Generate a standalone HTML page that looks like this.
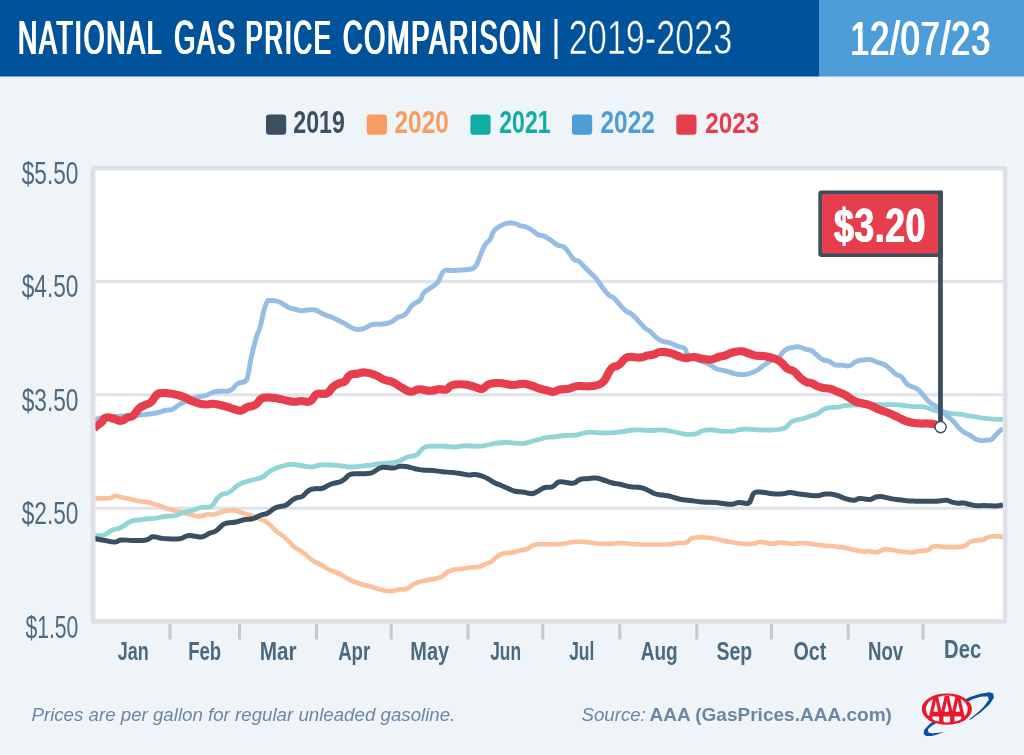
<!DOCTYPE html>
<html lang="en">
<head>
<meta charset="utf-8">
<title>National Gas Price Comparison | 2019-2023</title>
<style>
html,body{margin:0;padding:0;background:#eff4f9;}
body{width:1024px;height:755px;overflow:hidden;font-family:'Liberation Sans', sans-serif;}
svg{display:block;}
svg text{font-family:'Liberation Sans', sans-serif;white-space:pre;}
.ln{fill:none;stroke-linejoin:round;stroke-linecap:butt;}
</style>
</head>
<body>
<svg width="1024" height="755" viewBox="0 0 1024 755">
<defs><clipPath id="plot"><rect x="95.4" y="170.6" width="907.5" height="448.4"/></clipPath><clipPath id="aaaclip"><ellipse cx="946.8" cy="709.1" rx="25.0" ry="15.6"/></clipPath></defs>
<rect width="1024" height="755" fill="#eff4f9"/>
<rect x="0" y="0" width="819" height="76.5" fill="#00539b"/>
<rect x="819" y="0" width="205" height="76.5" fill="#4d9ed8"/>
<rect x="266" y="114.5" width="20.2" height="20.2" rx="3.2" fill="#3b4f61"/>
<rect x="366.75" y="114.5" width="20.2" height="20.2" rx="3.2" fill="#f79d62"/>
<rect x="470.4" y="114.5" width="20.2" height="20.2" rx="3.2" fill="#0fada3"/>
<rect x="572" y="114.5" width="20.2" height="20.2" rx="3.2" fill="#4f9cd6"/>
<rect x="676.3" y="114.5" width="20.2" height="20.2" rx="3.2" fill="#e63d4d"/>
<rect x="93.05" y="168.1" width="912.05" height="453.3" rx="1" fill="#ffffff" stroke="#dfe1e7" stroke-width="4.7"/>
<rect x="95.6" y="279.9" width="907.3" height="3.2" fill="#e2e3e8"/>
<rect x="95.6" y="393.2" width="907.3" height="3.2" fill="#e2e3e8"/>
<rect x="95.6" y="506.59999999999997" width="907.3" height="3.2" fill="#e2e3e8"/>
<rect x="168.5" y="624" width="3" height="15.5" fill="#c6c8cd"/>
<rect x="238.0" y="624" width="3" height="15.5" fill="#c6c8cd"/>
<rect x="315.0" y="624" width="3" height="15.5" fill="#c6c8cd"/>
<rect x="389.75" y="624" width="3" height="15.5" fill="#c6c8cd"/>
<rect x="466.5" y="624" width="3" height="15.5" fill="#c6c8cd"/>
<rect x="541.25" y="624" width="3" height="15.5" fill="#c6c8cd"/>
<rect x="618.25" y="624" width="3" height="15.5" fill="#c6c8cd"/>
<rect x="695.25" y="624" width="3" height="15.5" fill="#c6c8cd"/>
<rect x="769.9" y="624" width="3" height="15.5" fill="#c6c8cd"/>
<rect x="846.75" y="624" width="3" height="15.5" fill="#c6c8cd"/>
<rect x="921.5" y="624" width="3" height="15.5" fill="#c6c8cd"/>
<g clip-path="url(#plot)">
<path class="ln" d="M94.00,498.31 C94.38,498.30 91.45,498.33 95.50,498.25 C99.55,498.17 105.06,498.63 110.00,498.00 C114.94,497.37 111.83,495.88 115.00,495.75 C118.17,495.62 118.07,496.55 122.50,497.50 C126.93,498.45 128.07,498.55 132.50,499.50 C136.93,500.45 135.88,500.49 140.00,501.25 C144.12,502.01 144.32,501.55 148.75,502.50 C153.18,503.45 152.75,503.42 157.50,505.00 C162.25,506.58 162.43,507.17 167.50,508.75 C172.57,510.33 171.80,509.79 177.50,511.25 C183.20,512.71 184.30,513.23 190.00,514.50 C195.70,515.77 195.88,516.25 200.00,516.25 C204.12,516.25 202.77,514.94 206.25,514.50 C209.73,514.06 210.27,515.01 213.75,514.50 C217.23,513.99 216.83,513.45 220.00,512.50 C223.17,511.55 222.77,511.26 226.25,510.75 C229.73,510.24 230.27,510.18 233.75,510.50 C237.23,510.82 236.52,510.99 240.00,512.00 C243.48,513.01 243.70,513.23 247.50,514.50 C251.30,515.77 251.20,515.61 255.00,517.00 C258.80,518.39 259.02,518.29 262.50,520.00 C265.98,521.71 265.27,520.90 268.75,523.75 C272.23,526.60 272.77,528.27 276.25,531.25 C279.73,534.23 279.33,532.97 282.50,535.50 C285.67,538.03 285.58,538.21 288.75,541.25 C291.92,544.29 291.83,544.97 295.00,547.50 C298.17,550.03 298.08,549.03 301.25,551.25 C304.42,553.47 304.33,553.72 307.50,556.25 C310.67,558.78 310.27,559.03 313.75,561.25 C317.23,563.47 317.45,562.91 321.25,565.00 C325.05,567.09 324.95,567.60 328.75,569.50 C332.55,571.40 332.64,570.90 336.25,572.50 C339.86,574.10 339.52,573.90 343.00,575.80 C346.48,577.70 345.69,577.99 350.00,580.00 C354.31,582.01 354.93,582.17 360.00,583.75 C365.07,585.33 364.93,584.79 370.00,586.25 C375.07,587.71 374.93,588.23 380.00,589.50 C385.07,590.77 385.25,591.25 390.00,591.25 C394.75,591.25 394.63,590.07 398.75,589.50 C402.87,588.93 402.77,590.14 406.25,589.00 C409.73,587.86 409.65,586.65 412.50,585.00 C415.35,583.35 413.70,583.77 417.50,582.50 C421.30,581.23 421.80,581.27 427.50,580.00 C433.20,578.73 435.25,579.27 440.00,577.50 C444.75,575.73 443.08,574.90 446.25,573.00 C449.42,571.10 448.38,571.08 452.50,570.00 C456.62,568.92 458.07,569.38 462.50,568.75 C466.93,568.12 465.88,568.01 470.00,567.50 C474.12,566.99 474.95,567.57 478.75,566.75 C482.55,565.93 481.83,565.52 485.00,564.25 C488.17,562.98 488.08,563.78 491.25,561.75 C494.42,559.72 494.33,558.40 497.50,556.25 C500.67,554.10 499.95,554.20 503.75,553.25 C507.55,552.30 508.38,553.20 512.50,552.50 C516.62,551.80 516.20,551.45 520.00,550.50 C523.80,549.55 524.02,550.14 527.50,548.75 C530.98,547.36 530.58,546.14 533.75,545.00 C536.92,543.86 535.25,544.44 540.00,544.25 C544.75,544.06 546.48,544.38 552.50,544.25 C558.52,544.12 558.68,544.32 563.75,543.75 C568.82,543.18 567.75,542.51 572.50,542.00 C577.25,541.49 578.07,541.62 582.50,541.75 C586.93,541.88 585.57,541.99 590.00,542.50 C594.43,543.01 594.30,543.43 600.00,543.75 C605.70,544.07 606.80,543.94 612.50,543.75 C618.20,543.56 616.80,542.87 622.50,543.00 C628.20,543.13 627.40,543.87 635.00,544.25 C642.60,544.63 643.63,544.50 652.50,544.50 C661.37,544.50 663.67,544.63 670.00,544.25 C676.33,543.87 673.38,543.44 677.50,543.00 C681.62,542.56 682.45,543.77 686.25,542.50 C690.05,541.23 687.75,539.27 692.50,538.00 C697.25,536.73 698.67,537.18 705.00,537.50 C711.33,537.82 711.17,538.11 717.50,539.25 C723.83,540.39 723.67,540.86 730.00,542.00 C736.33,543.14 736.48,543.31 742.50,543.75 C748.52,544.19 749.32,544.19 753.75,543.75 C758.18,543.31 755.25,542.00 760.00,542.00 C764.75,542.00 767.43,543.62 772.50,543.75 C777.57,543.88 774.93,542.50 780.00,542.50 C785.07,542.50 786.80,543.62 792.50,543.75 C798.20,543.88 796.80,542.81 802.50,543.00 C808.20,543.19 809.30,543.80 815.00,544.50 C820.70,545.20 821.20,545.37 825.00,545.75 C828.80,546.13 826.83,545.73 830.00,546.00 C833.17,546.27 833.70,546.34 837.50,546.80 C841.30,547.26 840.72,546.99 845.00,547.80 C849.28,548.61 849.87,549.06 854.40,550.00 C858.93,550.94 859.33,551.20 862.90,551.50 C866.47,551.80 864.93,551.05 868.50,551.20 C872.07,551.35 872.95,552.58 877.00,552.10 C881.05,551.62 880.67,549.83 884.50,549.30 C888.33,548.77 887.79,549.44 892.10,550.00 C896.41,550.56 896.74,550.87 901.50,551.50 C906.26,552.13 906.62,552.58 910.90,552.50 C915.18,552.42 914.12,551.83 918.40,551.20 C922.68,550.57 924.00,551.19 927.80,550.00 C931.60,548.81 929.60,547.31 933.40,546.50 C937.20,545.69 938.04,546.62 942.80,546.80 C947.56,546.98 946.96,547.33 952.20,547.20 C957.44,547.07 959.19,547.49 963.50,546.30 C967.81,545.11 966.34,543.94 969.20,542.50 C972.06,541.06 971.23,541.31 974.80,540.60 C978.37,539.89 980.21,540.51 983.30,539.70 C986.39,538.89 983.91,538.31 987.00,537.40 C990.09,536.49 991.45,536.23 995.50,536.10 C999.55,535.97 1001.10,536.70 1003.00,536.90" stroke="#fbc19c" stroke-width="4.7"/>
<path class="ln" d="M94.00,535.62 C94.38,535.59 93.03,535.66 95.50,535.50 C97.97,535.34 99.44,536.39 103.75,535.00 C108.06,533.61 108.38,531.77 112.50,530.00 C116.62,528.23 115.25,530.22 120.00,528.00 C124.75,525.78 126.18,523.28 131.25,521.25 C136.32,519.22 135.57,520.63 140.00,520.00 C144.43,519.37 144.63,519.19 148.75,518.75 C152.87,518.31 152.13,518.88 156.25,518.25 C160.37,517.62 160.25,516.88 165.00,516.25 C169.75,515.62 170.25,516.70 175.00,515.75 C179.75,514.80 179.32,513.83 183.75,512.50 C188.18,511.17 188.07,511.77 192.50,510.50 C196.93,509.23 196.50,508.58 201.25,507.50 C206.00,506.42 207.13,508.66 211.25,506.25 C215.37,503.84 214.65,501.04 217.50,498.00 C220.35,494.96 219.65,495.64 222.50,494.25 C225.35,492.86 224.95,494.72 228.75,492.50 C232.55,490.28 233.70,488.03 237.50,485.50 C241.30,482.97 239.95,483.89 243.75,482.50 C247.55,481.11 247.75,481.39 252.50,480.00 C257.25,478.61 258.38,479.03 262.50,477.00 C266.62,474.97 265.27,474.28 268.75,472.00 C272.23,469.72 272.45,469.58 276.25,468.00 C280.05,466.42 280.27,466.64 283.75,465.75 C287.23,464.86 286.52,464.69 290.00,464.50 C293.48,464.31 293.70,464.56 297.50,465.00 C301.30,465.44 301.20,465.81 305.00,466.25 C308.80,466.69 308.70,467.07 312.50,466.75 C316.30,466.43 315.57,465.44 320.00,465.00 C324.43,464.56 324.93,464.81 330.00,465.00 C335.07,465.19 334.30,465.24 340.00,465.75 C345.70,466.26 345.53,467.06 352.50,467.00 C359.47,466.94 360.53,466.32 367.50,465.50 C374.47,464.68 374.30,464.38 380.00,463.75 C385.70,463.12 385.25,463.63 390.00,463.00 C394.75,462.37 394.32,462.77 398.75,461.25 C403.18,459.73 403.07,458.58 407.50,457.00 C411.93,455.42 412.77,456.77 416.25,455.00 C419.73,453.23 418.72,452.09 421.25,450.00 C423.78,447.91 422.77,447.70 426.25,446.75 C429.73,445.80 430.25,446.38 435.00,446.25 C439.75,446.12 439.93,446.06 445.00,446.25 C450.07,446.44 449.93,447.13 455.00,447.00 C460.07,446.87 459.30,445.94 465.00,445.75 C470.70,445.56 471.80,446.44 477.50,446.25 C483.20,446.06 482.43,445.82 487.50,445.00 C492.57,444.18 492.43,443.63 497.50,443.00 C502.57,442.37 502.75,442.44 507.50,442.50 C512.25,442.56 511.82,443.06 516.25,443.25 C520.68,443.44 520.57,443.88 525.00,443.25 C529.43,442.62 529.95,441.76 533.75,440.75 C537.55,439.74 536.83,440.07 540.00,439.25 C543.17,438.43 542.45,438.13 546.25,437.50 C550.05,436.87 550.25,437.26 555.00,436.75 C559.75,436.24 559.62,435.94 565.00,435.50 C570.38,435.06 570.87,435.76 576.25,435.00 C581.63,434.24 582.13,433.18 586.25,432.50 C590.37,431.82 588.38,432.17 592.50,432.30 C596.62,432.43 596.80,432.95 602.50,433.00 C608.20,433.05 609.30,432.94 615.00,432.50 C620.70,432.06 620.57,431.88 625.00,431.25 C629.43,430.62 628.07,430.32 632.50,430.00 C636.93,429.68 637.43,429.87 642.50,430.00 C647.57,430.13 647.43,430.50 652.50,430.50 C657.57,430.50 657.43,429.75 662.50,430.00 C667.57,430.25 666.80,430.42 672.50,431.50 C678.20,432.58 678.98,433.68 685.00,434.25 C691.02,434.82 691.82,434.64 696.25,433.75 C700.68,432.86 698.38,431.70 702.50,430.75 C706.62,429.80 707.43,429.87 712.50,430.00 C717.57,430.13 717.43,430.93 722.50,431.25 C727.57,431.57 728.07,431.69 732.50,431.25 C736.93,430.81 735.57,430.01 740.00,429.50 C744.43,428.99 744.93,429.12 750.00,429.25 C755.07,429.38 754.93,429.81 760.00,430.00 C765.07,430.19 764.93,430.19 770.00,430.00 C775.07,429.81 775.88,430.01 780.00,429.25 C784.12,428.49 783.08,429.03 786.25,427.00 C789.42,424.97 788.38,423.34 792.50,421.25 C796.62,419.16 798.07,420.02 802.50,418.75 C806.93,417.48 806.20,417.52 810.00,416.25 C813.80,414.98 813.70,415.65 817.50,413.75 C821.30,411.85 821.20,410.33 825.00,408.75 C828.80,407.17 829.33,407.87 832.50,407.50 C835.67,407.13 834.33,407.78 837.50,407.30 C840.67,406.82 841.17,406.13 845.00,405.60 C848.83,405.07 846.87,405.53 852.60,405.20 C858.33,404.87 860.94,404.43 867.60,404.30 C874.26,404.17 872.24,404.60 878.90,404.70 C885.56,404.80 887.24,404.47 893.90,404.70 C900.56,404.93 900.44,405.14 905.20,405.60 C909.96,406.06 908.42,406.22 912.70,406.50 C916.98,406.78 918.27,406.32 922.10,406.70 C925.93,407.08 925.17,407.19 927.80,408.00 C930.43,408.81 929.89,409.09 932.50,409.90 C935.11,410.71 935.01,410.57 938.10,411.20 C941.19,411.83 941.13,411.77 944.70,412.40 C948.27,413.03 948.40,413.24 952.20,413.70 C956.00,414.16 955.87,413.72 959.70,414.20 C963.53,414.68 963.47,415.02 967.30,415.60 C971.13,416.18 971.00,415.89 974.80,416.50 C978.60,417.11 978.50,417.42 982.30,418.00 C986.10,418.58 985.97,418.47 989.80,418.80 C993.63,419.13 994.06,419.17 997.40,419.30 C1000.74,419.43 1001.58,419.30 1003.00,419.30" stroke="#92d5d6" stroke-width="4.8"/>
<path class="ln" d="M94.00,419.69 C94.38,419.58 92.71,419.80 95.50,419.25 C98.29,418.70 98.79,418.26 105.00,417.50 C111.21,416.74 111.13,416.88 120.00,416.25 C128.87,415.62 131.13,415.76 140.00,415.00 C148.87,414.24 148.67,414.39 155.00,413.25 C161.33,412.11 160.57,411.51 165.00,410.50 C169.43,409.49 169.02,410.64 172.50,409.25 C175.98,407.86 175.27,407.03 178.75,405.00 C182.23,402.97 182.13,403.15 186.25,401.25 C190.37,399.35 190.25,398.89 195.00,397.50 C199.75,396.11 200.57,397.02 205.00,395.75 C209.43,394.48 208.70,393.64 212.50,392.50 C216.30,391.36 215.57,391.76 220.00,391.25 C224.43,390.74 225.57,392.40 230.00,390.50 C234.43,388.60 233.70,386.09 237.50,383.75 C241.30,381.41 242.34,383.47 245.00,381.25 C247.66,379.03 246.42,381.02 248.00,375.00 C249.58,368.98 249.16,367.00 251.25,357.50 C253.34,348.00 254.03,345.10 256.25,337.50 C258.47,329.90 258.10,334.15 260.00,327.50 C261.90,320.85 261.98,317.71 263.75,311.25 C265.52,304.79 265.42,304.72 267.00,302.00 C268.58,299.28 267.34,300.69 270.00,300.50 C272.66,300.31 274.02,300.24 277.50,301.25 C280.98,302.26 280.58,302.79 283.75,304.50 C286.92,306.21 286.83,306.73 290.00,308.00 C293.17,309.27 293.40,308.80 296.25,309.50 C299.10,310.20 298.40,310.62 301.25,310.75 C304.10,310.88 304.02,310.19 307.50,310.00 C310.98,309.81 311.52,309.24 315.00,310.00 C318.48,310.76 318.40,311.61 321.25,313.00 C324.10,314.39 323.72,314.49 326.25,315.50 C328.78,316.51 328.40,315.86 331.25,317.00 C334.10,318.14 334.78,318.66 337.50,320.00 C340.22,321.34 339.78,321.16 342.00,322.30 C344.22,323.44 343.91,323.18 346.25,324.50 C348.59,325.82 348.40,326.23 351.25,327.50 C354.10,328.77 354.02,329.37 357.50,329.50 C360.98,329.63 361.20,329.27 365.00,328.00 C368.80,326.73 368.07,325.51 372.50,324.50 C376.93,323.49 377.75,324.63 382.50,324.00 C387.25,323.37 387.45,323.65 391.25,322.00 C395.05,320.35 394.02,319.40 397.50,317.50 C400.98,315.60 401.20,317.67 405.00,314.50 C408.80,311.33 408.70,308.67 412.50,305.00 C416.30,301.33 417.15,303.04 420.00,300.00 C422.85,296.96 421.22,295.98 423.75,293.00 C426.28,290.02 426.52,290.91 430.00,288.25 C433.48,285.59 434.65,285.86 437.50,282.50 C440.35,279.14 439.35,278.04 441.25,275.00 C443.15,271.96 442.15,271.64 445.00,270.50 C447.85,269.36 448.70,270.63 452.50,270.50 C456.30,270.37 456.20,270.25 460.00,270.00 C463.80,269.75 463.70,270.26 467.50,269.50 C471.30,268.74 471.83,270.36 475.00,267.00 C478.17,263.64 477.47,261.82 480.00,256.25 C482.53,250.68 482.47,249.24 485.00,245.00 C487.53,240.76 487.78,242.98 490.00,239.50 C492.22,236.02 491.53,234.42 493.75,231.25 C495.97,228.08 495.90,228.90 498.75,227.00 C501.60,225.10 501.83,224.76 505.00,223.75 C508.17,222.74 508.40,222.94 511.25,223.00 C514.10,223.06 513.72,223.24 516.25,224.00 C518.78,224.76 518.72,225.24 521.25,226.00 C523.78,226.76 523.40,225.86 526.25,227.00 C529.10,228.14 529.33,228.47 532.50,230.50 C535.67,232.53 535.90,233.61 538.75,235.00 C541.60,236.39 540.58,234.61 543.75,236.00 C546.92,237.39 547.77,238.22 551.25,240.50 C554.73,242.78 554.33,243.35 557.50,245.00 C560.67,246.65 560.90,245.10 563.75,247.00 C566.60,248.90 566.22,249.33 568.75,252.50 C571.28,255.67 571.22,257.28 573.75,259.50 C576.28,261.72 575.90,259.22 578.75,261.25 C581.60,263.28 582.15,264.65 585.00,267.50 C587.85,270.35 587.15,269.65 590.00,272.50 C592.85,275.35 593.08,274.95 596.25,278.75 C599.42,282.55 599.33,283.38 602.50,287.50 C605.67,291.62 605.90,292.34 608.75,295.00 C611.60,297.66 610.90,295.47 613.75,298.00 C616.60,300.53 616.83,301.64 620.00,305.00 C623.17,308.36 623.40,309.03 626.25,311.25 C629.10,313.47 628.40,311.53 631.25,313.75 C634.10,315.97 634.02,316.39 637.50,320.00 C640.98,323.61 641.83,325.15 645.00,328.00 C648.17,330.85 647.15,328.84 650.00,331.25 C652.85,333.66 653.08,334.97 656.25,337.50 C659.42,340.03 659.02,339.86 662.50,341.25 C665.98,342.64 666.20,341.73 670.00,343.00 C673.80,344.27 673.70,344.79 677.50,346.25 C681.30,347.71 682.47,346.53 685.00,348.75 C687.53,350.97 684.97,352.47 687.50,355.00 C690.03,357.53 690.57,356.85 695.00,358.75 C699.43,360.65 700.57,360.60 705.00,362.50 C709.43,364.40 709.33,364.54 712.50,366.25 C715.67,367.96 714.33,368.11 717.50,369.25 C720.67,370.39 721.20,369.80 725.00,370.75 C728.80,371.70 728.70,372.05 732.50,373.00 C736.30,373.95 736.52,374.18 740.00,374.50 C743.48,374.82 743.08,374.76 746.25,374.25 C749.42,373.74 749.33,373.77 752.50,372.50 C755.67,371.23 755.58,371.28 758.75,369.25 C761.92,367.22 761.52,366.84 765.00,364.50 C768.48,362.16 769.02,361.77 772.50,360.00 C775.98,358.23 776.22,359.40 778.75,357.50 C781.28,355.60 780.28,354.72 782.50,352.50 C784.72,350.28 784.97,350.02 787.50,348.75 C790.03,347.48 789.97,348.01 792.50,347.50 C795.03,346.99 794.97,346.62 797.50,346.75 C800.03,346.88 800.28,347.30 802.50,348.00 C804.72,348.70 804.03,348.87 806.25,349.50 C808.47,350.13 808.72,349.23 811.25,350.50 C813.78,351.77 813.40,352.22 816.25,354.50 C819.10,356.78 819.33,357.79 822.50,359.50 C825.67,361.21 825.43,359.91 828.75,361.25 C832.07,362.59 831.94,363.80 835.60,364.80 C839.26,365.80 839.63,364.97 843.20,365.20 C846.77,365.43 846.38,366.66 849.70,365.70 C853.02,364.74 852.96,362.82 856.30,361.40 C859.64,359.98 859.33,360.53 862.90,360.10 C866.47,359.67 866.83,359.14 870.40,359.70 C873.97,360.26 873.66,361.16 877.00,362.30 C880.34,363.44 880.26,362.48 883.60,364.20 C886.94,365.92 887.11,366.57 890.20,369.10 C893.29,371.63 892.94,372.20 895.80,374.20 C898.66,376.20 898.64,374.47 901.50,377.00 C904.36,379.53 904.26,381.67 907.10,384.20 C909.94,386.73 909.84,385.58 912.70,387.00 C915.56,388.42 915.54,387.47 918.40,389.80 C921.26,392.13 921.14,393.01 924.00,396.20 C926.86,399.39 926.84,399.97 929.70,402.40 C932.56,404.83 932.46,403.90 935.30,405.80 C938.14,407.70 938.04,407.42 940.90,409.90 C943.76,412.38 943.48,412.74 946.60,415.60 C949.72,418.46 950.11,418.11 953.20,421.20 C956.29,424.29 955.96,424.94 958.80,427.80 C961.64,430.66 961.54,430.60 964.40,432.50 C967.26,434.40 967.24,433.63 970.10,435.30 C972.96,436.97 972.84,437.76 975.70,439.10 C978.56,440.44 978.54,440.37 981.40,440.60 C984.26,440.83 984.39,440.30 987.00,440.00 C989.61,439.70 989.55,440.59 991.70,439.40 C993.85,438.21 993.60,437.30 995.50,435.30 C997.40,433.30 997.30,433.22 999.20,431.50 C1001.10,429.78 1002.04,429.26 1003.00,428.50" stroke="#96bde5" stroke-width="4.9"/>
<path class="ln" d="M94.00,538.31 C94.38,538.42 92.71,538.20 95.50,538.75 C98.29,539.30 100.06,539.68 105.00,540.50 C109.94,541.32 110.88,542.13 115.00,542.00 C119.12,541.87 116.82,540.38 121.25,540.00 C125.68,539.62 126.17,540.50 132.50,540.50 C138.83,540.50 141.18,540.95 146.25,540.00 C151.32,539.05 149.02,537.26 152.50,536.75 C155.98,536.24 156.20,537.49 160.00,538.00 C163.80,538.51 162.43,538.56 167.50,538.75 C172.57,538.94 174.93,539.51 180.00,538.75 C185.07,537.99 183.70,536.38 187.50,535.75 C191.30,535.12 191.20,536.00 195.00,536.25 C198.80,536.50 198.70,537.57 202.50,536.75 C206.30,535.93 206.52,534.52 210.00,533.00 C213.48,531.48 213.08,532.78 216.25,530.75 C219.42,528.72 219.65,526.96 222.50,525.00 C225.35,523.04 224.02,523.76 227.50,523.00 C230.98,522.24 231.82,522.89 236.25,522.00 C240.68,521.11 240.88,520.32 245.00,519.50 C249.12,518.68 248.38,519.89 252.50,518.75 C256.62,517.61 257.45,516.39 261.25,515.00 C265.05,513.61 264.02,515.02 267.50,513.25 C270.98,511.48 271.52,509.77 275.00,508.00 C278.48,506.23 278.40,507.01 281.25,506.25 C284.10,505.49 283.40,506.58 286.25,505.00 C289.10,503.42 289.65,501.90 292.50,500.00 C295.35,498.10 294.97,498.45 297.50,497.50 C300.03,496.55 299.65,498.02 302.50,496.25 C305.35,494.48 305.58,492.40 308.75,490.50 C311.92,488.60 311.52,489.32 315.00,488.75 C318.48,488.18 318.70,489.33 322.50,488.25 C326.30,487.17 326.20,485.96 330.00,484.50 C333.80,483.04 334.71,483.26 337.50,482.50 C340.29,481.74 339.10,482.45 341.00,481.50 C342.90,480.55 342.72,480.52 345.00,478.75 C347.28,476.98 346.83,475.77 350.00,474.50 C353.17,473.23 353.70,473.94 357.50,473.75 C361.30,473.56 361.20,474.07 365.00,473.75 C368.80,473.43 368.70,473.96 372.50,472.50 C376.30,471.04 376.52,469.27 380.00,468.00 C383.48,466.73 382.77,467.50 386.25,467.50 C389.73,467.50 390.27,468.32 393.75,468.00 C397.23,467.68 396.52,466.57 400.00,466.25 C403.48,465.93 403.70,466.12 407.50,466.75 C411.30,467.38 411.20,467.93 415.00,468.75 C418.80,469.57 418.07,469.56 422.50,470.00 C426.93,470.44 427.43,470.06 432.50,470.50 C437.57,470.94 437.43,471.24 442.50,471.75 C447.57,472.26 447.75,471.99 452.50,472.50 C457.25,473.01 457.13,473.12 461.25,473.75 C465.37,474.38 465.27,474.81 468.75,475.00 C472.23,475.19 471.52,474.18 475.00,474.50 C478.48,474.82 479.02,475.05 482.50,476.25 C485.98,477.45 485.58,477.54 488.75,479.25 C491.92,480.96 491.83,481.42 495.00,483.00 C498.17,484.58 498.08,484.17 501.25,485.50 C504.42,486.83 504.02,486.79 507.50,488.25 C510.98,489.71 511.20,490.30 515.00,491.25 C518.80,492.20 519.02,491.49 522.50,492.00 C525.98,492.51 525.90,492.93 528.75,493.25 C531.60,493.57 530.90,494.07 533.75,493.25 C536.60,492.43 537.15,491.46 540.00,490.00 C542.85,488.54 541.83,488.32 545.00,487.50 C548.17,486.68 549.02,488.14 552.50,486.75 C555.98,485.36 555.27,483.08 558.75,482.00 C562.23,480.92 562.45,482.25 566.25,482.50 C570.05,482.75 570.27,483.76 573.75,483.00 C577.23,482.24 576.52,480.58 580.00,479.50 C583.48,478.42 583.38,479.13 587.50,478.75 C591.62,478.37 591.82,477.56 596.25,478.00 C600.68,478.44 600.88,479.23 605.00,480.50 C609.12,481.77 608.70,482.05 612.50,483.00 C616.30,483.95 615.57,483.30 620.00,484.25 C624.43,485.20 624.93,485.93 630.00,486.75 C635.07,487.57 635.57,486.68 640.00,487.50 C644.43,488.32 643.70,488.42 647.50,490.00 C651.30,491.58 651.20,492.48 655.00,493.75 C658.80,495.02 658.70,494.37 662.50,495.00 C666.30,495.63 665.57,495.17 670.00,496.25 C674.43,497.33 674.93,498.17 680.00,499.25 C685.07,500.33 684.30,499.80 690.00,500.50 C695.70,501.20 696.17,501.49 702.50,502.00 C708.83,502.51 709.30,502.06 715.00,502.50 C720.70,502.94 720.57,503.31 725.00,503.75 C729.43,504.19 729.02,504.57 732.50,504.25 C735.98,503.93 734.82,502.75 738.75,502.50 C742.68,502.25 744.83,504.20 748.00,503.25 C751.17,502.30 749.79,501.28 751.25,498.75 C752.71,496.22 751.85,494.96 753.75,493.25 C755.65,491.54 755.90,492.19 758.75,492.00 C761.60,491.81 761.52,492.06 765.00,492.50 C768.48,492.94 768.07,493.43 772.50,493.75 C776.93,494.07 778.07,494.07 782.50,493.75 C786.93,493.43 786.20,492.50 790.00,492.50 C793.80,492.50 793.07,493.12 797.50,493.75 C801.93,494.38 802.43,494.49 807.50,495.00 C812.57,495.51 813.38,495.94 817.50,495.75 C821.62,495.56 820.58,494.69 823.75,494.25 C826.92,493.81 826.52,493.68 830.00,494.00 C833.48,494.32 834.16,494.51 837.50,495.50 C840.84,496.49 840.34,496.89 843.20,497.90 C846.06,498.91 845.96,498.92 848.80,499.50 C851.64,500.08 851.79,500.45 854.40,500.20 C857.01,499.95 856.47,498.83 859.10,498.50 C861.73,498.17 861.94,498.65 864.80,498.90 C867.66,499.15 867.54,499.98 870.40,499.50 C873.26,499.02 873.47,497.73 876.10,497.00 C878.73,496.27 878.19,496.45 880.80,496.60 C883.41,496.75 883.54,497.02 886.40,497.60 C889.26,498.18 888.76,498.34 892.10,498.90 C895.44,499.46 895.80,499.32 899.60,499.80 C903.40,500.28 903.30,500.47 907.10,500.80 C910.90,501.13 910.32,500.97 914.60,501.10 C918.88,501.23 919.24,501.25 924.00,501.30 C928.76,501.35 929.12,501.43 933.40,501.30 C937.68,501.17 937.56,501.08 940.90,500.80 C944.24,500.52 943.74,499.87 946.60,500.20 C949.46,500.53 949.34,501.34 952.20,502.10 C955.06,502.86 955.04,502.97 957.90,503.20 C960.76,503.43 960.41,502.67 963.50,503.00 C966.59,503.33 966.76,503.82 970.10,504.50 C973.44,505.18 973.13,505.45 976.70,505.70 C980.27,505.95 980.40,505.47 984.20,505.50 C988.00,505.53 988.13,505.72 991.70,505.80 C995.27,505.88 995.44,506.03 998.30,505.80 C1001.16,505.57 1001.81,505.13 1003.00,504.90" stroke="#3a5062" stroke-width="5.0"/>
<path class="ln" d="M94.00,428.12 C94.38,427.84 93.66,428.43 95.50,427.00 C97.34,425.57 98.53,424.91 101.25,422.50 C103.97,420.09 103.08,418.45 106.25,417.50 C109.42,416.55 109.95,417.93 113.75,418.75 C117.55,419.57 117.77,421.07 121.25,420.75 C124.73,420.43 124.52,418.77 127.50,417.50 C130.48,416.23 130.15,417.97 133.00,415.75 C135.85,413.53 135.71,411.47 138.75,408.75 C141.79,406.03 141.83,406.71 145.00,405.00 C148.17,403.29 148.21,404.66 151.25,402.00 C154.29,399.34 154.15,396.78 157.00,394.50 C159.85,392.22 159.21,393.25 162.50,393.00 C165.79,392.75 166.20,392.99 170.00,393.50 C173.80,394.01 173.70,393.99 177.50,395.00 C181.30,396.01 181.20,395.92 185.00,397.50 C188.80,399.08 188.70,399.67 192.50,401.25 C196.30,402.83 196.52,402.93 200.00,403.75 C203.48,404.57 203.08,404.50 206.25,404.50 C209.42,404.50 209.02,403.62 212.50,403.75 C215.98,403.88 216.20,404.18 220.00,405.00 C223.80,405.82 223.70,405.86 227.50,407.00 C231.30,408.14 231.52,408.61 235.00,409.50 C238.48,410.39 238.08,411.13 241.25,410.50 C244.42,409.87 244.02,408.39 247.50,407.00 C250.98,405.61 251.52,407.09 255.00,405.00 C258.48,402.91 258.40,400.65 261.25,398.75 C264.10,396.85 263.08,397.69 266.25,397.50 C269.42,397.31 270.27,397.62 273.75,398.00 C277.23,398.38 276.52,398.30 280.00,399.00 C283.48,399.70 284.02,400.05 287.50,400.75 C290.98,401.45 290.27,401.69 293.75,401.75 C297.23,401.81 297.13,401.13 301.25,401.00 C305.37,400.87 306.20,402.90 310.00,401.25 C313.80,399.60 313.40,396.40 316.25,394.50 C319.10,392.60 318.40,394.13 321.25,393.75 C324.10,393.37 324.33,394.90 327.50,393.00 C330.67,391.10 330.58,388.78 333.75,386.25 C336.92,383.72 337.15,384.27 340.00,383.00 C342.85,381.73 342.47,383.28 345.00,381.25 C347.53,379.22 346.83,376.90 350.00,375.00 C353.17,373.10 353.70,374.38 357.50,373.75 C361.30,373.12 360.57,372.18 365.00,372.50 C369.43,372.82 369.93,373.10 375.00,375.00 C380.07,376.90 380.57,378.23 385.00,380.00 C389.43,381.77 388.07,379.97 392.50,382.00 C396.93,384.03 397.75,385.53 402.50,388.00 C407.25,390.47 407.13,391.43 411.25,391.75 C415.37,392.07 414.00,389.50 418.75,389.25 C423.50,389.00 424.93,390.75 430.00,390.75 C435.07,390.75 434.63,389.57 438.75,389.25 C442.87,388.93 443.08,390.45 446.25,389.50 C449.42,388.55 447.45,386.83 451.25,385.50 C455.05,384.17 456.50,384.25 461.25,384.25 C466.00,384.25 466.20,384.68 470.00,385.50 C473.80,386.32 473.08,386.68 476.25,387.50 C479.42,388.32 479.33,389.57 482.50,388.75 C485.67,387.93 484.95,385.71 488.75,384.25 C492.55,382.79 493.38,383.13 497.50,383.00 C501.62,382.87 500.88,383.24 505.00,383.75 C509.12,384.26 509.32,385.00 513.75,385.00 C518.18,385.00 518.07,383.62 522.50,383.75 C526.93,383.88 526.82,384.23 531.25,385.50 C535.68,386.77 535.88,387.48 540.00,388.75 C544.12,390.02 544.02,389.74 547.50,390.50 C550.98,391.26 550.58,392.00 553.75,391.75 C556.92,391.50 556.20,390.26 560.00,389.50 C563.80,388.74 564.63,389.57 568.75,388.75 C572.87,387.93 572.13,386.88 576.25,386.25 C580.37,385.62 581.52,386.25 585.00,386.25 C588.48,386.25 586.83,386.57 590.00,386.25 C593.17,385.93 594.02,386.27 597.50,385.00 C600.98,383.73 600.90,384.42 603.75,381.25 C606.60,378.08 606.53,375.98 608.75,372.50 C610.97,369.02 609.97,369.40 612.50,367.50 C615.03,365.60 615.58,367.22 618.75,365.00 C621.92,362.78 622.15,360.78 625.00,358.75 C627.85,356.72 626.20,357.32 630.00,357.00 C633.80,356.68 635.57,357.88 640.00,357.50 C644.43,357.12 644.02,356.26 647.50,355.50 C650.98,354.74 650.58,355.39 653.75,354.50 C656.92,353.61 655.88,352.38 660.00,352.00 C664.12,351.62 665.57,352.05 670.00,353.00 C674.43,353.95 673.70,354.48 677.50,355.75 C681.30,357.02 680.88,357.68 685.00,358.00 C689.12,358.32 689.32,356.81 693.75,357.00 C698.18,357.19 698.07,358.12 702.50,358.75 C706.93,359.38 707.13,359.94 711.25,359.50 C715.37,359.06 715.27,358.01 718.75,357.00 C722.23,355.99 721.52,356.64 725.00,355.50 C728.48,354.36 728.38,353.58 732.50,352.50 C736.62,351.42 737.45,351.12 741.25,351.25 C745.05,351.38 744.02,351.92 747.50,353.00 C750.98,354.08 750.57,354.68 755.00,355.50 C759.43,356.32 759.93,355.43 765.00,356.25 C770.07,357.07 770.88,357.17 775.00,358.75 C779.12,360.33 778.08,359.97 781.25,362.50 C784.42,365.03 784.33,366.53 787.50,368.75 C790.67,370.97 790.58,369.03 793.75,371.25 C796.92,373.47 796.83,374.78 800.00,377.50 C803.17,380.22 803.40,380.61 806.25,382.00 C809.10,383.39 808.40,381.92 811.25,383.00 C814.10,384.08 814.33,384.98 817.50,386.25 C820.67,387.52 820.58,387.38 823.75,388.00 C826.92,388.62 826.52,387.76 830.00,388.70 C833.48,389.64 833.70,390.13 837.50,391.70 C841.30,393.27 841.43,393.00 845.00,394.90 C848.57,396.80 848.26,397.30 851.60,399.20 C854.94,401.10 853.67,400.88 858.20,402.40 C862.73,403.92 864.26,403.40 869.50,405.20 C874.74,407.00 873.91,407.45 878.90,409.50 C883.89,411.55 884.44,411.37 889.20,413.30 C893.96,415.23 893.65,415.20 897.70,417.10 C901.75,419.00 901.40,419.38 905.20,420.80 C909.00,422.22 908.87,422.02 912.70,422.70 C916.53,423.38 916.47,423.30 920.30,423.50 C924.13,423.70 924.00,423.27 927.80,423.50 C931.60,423.73 932.21,423.69 935.30,424.40 C938.39,425.11 938.81,425.82 940.00,426.30" stroke="#e63e4d" stroke-width="8.2"/>
</g>
<rect x="938.1" y="192" width="4.75" height="232" fill="#3b4f61"/>
<path d="M821.5,190.5 H942.85 V256.9 H821.5 a3.2,3.2 0 0 1 -3.2,-3.2 V193.7 a3.2,3.2 0 0 1 3.2,-3.2 Z" fill="#3b4f61"/>
<rect x="821.9" y="194.1" width="116.2" height="59.4" fill="#e63e4d"/>
<circle cx="940.6" cy="427.1" r="5.6" fill="#ffffff" stroke="#3b4f61" stroke-width="1.4"/>
<text transform="translate(17.98,54.10) scale(0.5510,1)" font-size="48.41" font-weight="400" fill="#ffffff" letter-spacing="3.146" style="text-shadow:1.12px 0 0 #ffffff,-1.12px 0 0 #ffffff;">NATIONAL</text>
<text transform="translate(174.27,54.10) scale(0.5597,1)" font-size="48.41" font-weight="400" fill="#ffffff" letter-spacing="3.146" style="text-shadow:1.12px 0 0 #ffffff,-1.12px 0 0 #ffffff;">GAS</text>
<text transform="translate(245.53,54.10) scale(0.5330,1)" font-size="48.41" font-weight="400" fill="#ffffff" letter-spacing="3.146" style="text-shadow:1.12px 0 0 #ffffff,-1.12px 0 0 #ffffff;">PRICE</text>
<text transform="translate(343.02,54.10) scale(0.5587,1)" font-size="48.41" font-weight="400" fill="#ffffff" letter-spacing="3.146" style="text-shadow:1.12px 0 0 #ffffff,-1.12px 0 0 #ffffff;">COMPARISON</text>
<text transform="translate(551.34,50.40) scale(0.8361,1)" font-size="43.36" font-weight="400" fill="#ffffff">|</text>
<text transform="translate(568.79,54.10) scale(0.7017,1)" font-size="48.70" font-weight="400" fill="#ffffff" style="stroke:#00539b;stroke-width:0.7px;">2019-2023</text>
<text transform="translate(850.21,55.00) scale(0.7016,1)" font-size="48.41" font-weight="400" fill="#ffffff" letter-spacing="1.573" style="text-shadow:0.9px 0 0 #ffffff,-0.9px 0 0 #ffffff;">12/07/23</text>
<text transform="translate(293.31,133.00) scale(0.7606,1)" font-size="30.43" font-weight="700" fill="#3b4f61">2019</text>
<text transform="translate(394.52,133.00) scale(0.8023,1)" font-size="30.43" font-weight="700" fill="#f79d62">2020</text>
<text transform="translate(499.31,133.00) scale(0.7571,1)" font-size="30.43" font-weight="700" fill="#0fada3">2021</text>
<text transform="translate(600.52,133.00) scale(0.8023,1)" font-size="30.43" font-weight="700" fill="#4f9cd6">2022</text>
<text transform="translate(705.27,133.00) scale(0.7971,1)" font-size="30.43" font-weight="700" fill="#e63d4d">2023</text>
<text transform="translate(21.67,183.75) scale(0.7038,1)" font-size="32.25" font-weight="400" fill="#4c6a80">$5.50</text>
<text transform="translate(21.67,297.25) scale(0.7038,1)" font-size="32.25" font-weight="400" fill="#4c6a80">$4.50</text>
<text transform="translate(21.67,410.75) scale(0.7038,1)" font-size="32.25" font-weight="400" fill="#4c6a80">$3.50</text>
<text transform="translate(21.67,524.25) scale(0.7038,1)" font-size="32.25" font-weight="400" fill="#4c6a80">$2.50</text>
<text transform="translate(25.39,637.60) scale(0.6569,1)" font-size="32.25" font-weight="400" fill="#4c6a80">$1.50</text>
<text transform="translate(834.20,241.80) scale(0.7259,1)" font-size="48.84" font-weight="700" fill="#ffffff" letter-spacing="0.839" style="text-shadow:0.7px 0 0 #ffffff,-0.7px 0 0 #ffffff;">$3.20</text>
<text transform="translate(117.64,660.00) scale(0.6895,1)" font-size="26.09" font-weight="700" fill="#4a6a80">Jan</text>
<text transform="translate(188.20,660.00) scale(0.7116,1)" font-size="26.09" font-weight="700" fill="#4a6a80">Feb</text>
<text transform="translate(259.80,660.00) scale(0.7939,1)" font-size="26.09" font-weight="700" fill="#4a6a80">Mar</text>
<text transform="translate(338.19,660.00) scale(0.7130,1)" font-size="26.09" font-weight="700" fill="#4a6a80">Apr</text>
<text transform="translate(410.36,660.00) scale(0.7636,1)" font-size="26.09" font-weight="700" fill="#4a6a80">May</text>
<text transform="translate(490.15,660.00) scale(0.6652,1)" font-size="26.09" font-weight="700" fill="#4a6a80">Jun</text>
<text transform="translate(569.15,660.00) scale(0.6673,1)" font-size="26.09" font-weight="700" fill="#4a6a80">Jul</text>
<text transform="translate(640.68,660.00) scale(0.7304,1)" font-size="26.09" font-weight="700" fill="#4a6a80">Aug</text>
<text transform="translate(716.42,660.00) scale(0.7568,1)" font-size="25.71" font-weight="700" fill="#4a6a80">Sep</text>
<text transform="translate(793.46,660.00) scale(0.7682,1)" font-size="25.71" font-weight="700" fill="#4a6a80">Oct</text>
<text transform="translate(867.94,660.00) scale(0.7148,1)" font-size="26.09" font-weight="700" fill="#4a6a80">Nov</text>
<text transform="translate(944.08,658.00) scale(0.7755,1)" font-size="26.09" font-weight="700" fill="#4a6a80">Dec</text>
<text transform="translate(31.44,721.20) scale(0.9742,1)" font-size="19.20" font-weight="400" fill="#6b87a3" style="font-style:italic;">Prices are per gallon for regular unleaded gasoline.</text>
<text transform="translate(581.44,721.20) scale(0.9876,1)" font-size="18.93" font-weight="400" fill="#6b87a3" style="font-style:italic;">Source:</text>
<text transform="translate(649.43,721.20) scale(0.9913,1)" font-size="19.20" font-weight="700" fill="#6b87a3">AAA (GasPrices.AAA.com)</text>
<g id="aaa-logo">
<path d="M965.50,699.60 C968.37,697.50 969.10,697.50 975.60,695.30 C982.10,693.10 979.93,693.87 985.00,693.00 C990.07,692.13 987.97,691.90 990.80,692.70 C993.63,693.50 993.17,692.67 993.50,695.40 C993.83,698.13 994.63,696.57 991.80,700.90 C988.97,705.23 990.40,703.40 985.00,708.40 C979.60,713.40 980.73,712.30 975.60,715.90 C970.47,719.50 968.33,720.83 969.60,719.20 C970.87,717.57 973.73,716.48 979.40,711.00 C985.07,705.52 983.60,706.98 986.60,702.75 C989.60,698.52 988.93,700.42 988.40,698.30 C987.87,696.18 989.27,696.43 985.00,696.40 C980.73,696.37 981.60,696.47 975.60,698.20 C969.60,699.93 970.37,701.13 967.00,701.60 C963.63,702.07 962.63,701.70 965.50,699.60 Z" fill="#0a4f9c"/>
<path d="M933.50,721.60 C930.37,723.03 930.10,723.70 926.90,727.10 C923.70,730.50 924.53,729.13 923.90,731.80 C923.27,734.47 923.38,733.67 925.00,735.10 C926.62,736.53 925.00,736.23 928.75,736.10 C932.50,735.97 931.43,736.03 936.25,734.70 C941.07,733.37 943.20,732.63 943.20,732.10 C943.20,731.57 940.38,732.80 936.25,733.10 C932.12,733.40 933.45,733.63 930.80,733.00 C928.15,732.37 928.50,733.17 928.30,731.20 C928.10,729.23 927.53,729.90 930.20,727.10 C932.87,724.30 935.20,724.63 936.30,722.80 C937.40,720.97 936.63,720.17 933.50,721.60 Z" fill="#0a4f9c"/>
<ellipse cx="946.8" cy="709.1" rx="25.1" ry="15.7" fill="#e8192c"/>
<ellipse cx="946.8" cy="709.1" rx="21.0" ry="13.5" fill="#f4f6fa"/>
<g clip-path="url(#aaaclip)"><text transform="translate(926.9,722.9) scale(0.62,1)" font-size="39.4" font-weight="700" fill="#e8192c" stroke="#e8192c" stroke-width="0.25" letter-spacing="-10.6">AAA</text></g>
</g>
</svg>
</body>
</html>
